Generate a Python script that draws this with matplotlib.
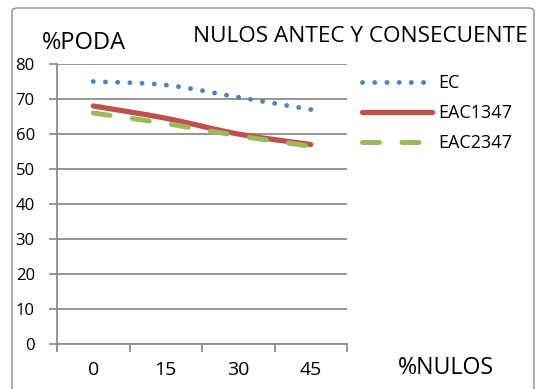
import numpy as np
import matplotlib
matplotlib.use("Agg")
import matplotlib.pyplot as plt
from matplotlib.patches import FancyBboxPatch
from matplotlib.lines import Line2D

categories = ["0", "15", "30", "45"]
series_names = ["EC", "EAC1347", "EAC2347"]
ec = [75, 74, 70.5, 67]
eac1347 = [68, 64.5, 60, 57]
eac2347 = [66, 63, 59.5, 56.5]
yticks = [0, 10, 20, 30, 40, 50, 60, 70, 80]

colors = ["#4F81BD", "#C0504D", "#9BBB59"]
FONT = ["Open Sans", "DejaVu Sans"]
plt.rcParams['font.family'] = FONT

def smooth(xs, ys, n=30):
    # Bezier smoothing between the given points (drawing only)
    xs = np.asarray(xs, float); ys = np.asarray(ys, float)
    px, py = [], []
    m = len(xs)
    for i in range(m - 1):
        p0 = (xs[max(i-1, 0)], ys[max(i-1, 0)])
        p1 = (xs[i], ys[i]); p2 = (xs[i+1], ys[i+1])
        p3 = (xs[min(i+2, m-1)], ys[min(i+2, m-1)])
        c1 = (p1[0] + (p2[0]-p0[0])/6, p1[1] + (p2[1]-p0[1])/6)
        c2 = (p2[0] - (p3[0]-p1[0])/6, p2[1] - (p3[1]-p1[1])/6)
        t = np.linspace(0, 1, n)
        bx = (1-t)**3*p1[0] + 3*(1-t)**2*t*c1[0] + 3*(1-t)*t**2*c2[0] + t**3*p2[0]
        by = (1-t)**3*p1[1] + 3*(1-t)**2*t*c1[1] + 3*(1-t)*t**2*c2[1] + t**3*p2[1]
        px.extend(bx if i == 0 else bx[1:]); py.extend(by if i == 0 else by[1:])
    return np.array(px), np.array(py)

W, H = 536, 389
fig = plt.figure(figsize=(W/100, H/100), dpi=100)
fig.patch.set_facecolor("white")

frame = FancyBboxPatch((12/W, -20/H), (534-12)/W, (389+20-8)/H,
                       boxstyle="round,pad=0,rounding_size=0.01",
                       transform=fig.transFigure, fill=False,
                       edgecolor="#8C8C8C", linewidth=1.0, zorder=0)
fig.patches.append(frame)

ax = fig.add_axes([57/W, 1-344/H, (347-57)/W, (344-64)/H])
ax.set_facecolor("none")
x = np.arange(len(categories))
ax.set_xlim(-0.5, len(categories)-0.5)
ax.set_ylim(0, 80)

grid_c = "#8C8C8C"
ax.set_yticks(yticks)
ax.set_yticklabels([str(v) for v in yticks], fontsize=12)
ax.yaxis.grid(True, color=grid_c, linewidth=1.3)
ax.set_axisbelow(True)
ax.set_xticks(np.arange(-0.5, len(categories), 1.0))
ax.set_xticklabels([])
ax.set_xticks(x, minor=True)
ax.set_xticklabels(categories, minor=True, fontsize=14)
ax.tick_params(axis='x', which='minor', length=0, pad=12.5)
ax.tick_params(axis='x', which='major', length=6, width=1.3, color=grid_c, direction='out')
ax.tick_params(axis='y', length=6, width=1.3, color=grid_c, direction='out', pad=10)
for s in ["top", "right"]:
    ax.spines[s].set_visible(False)
for s in ["left", "bottom"]:
    ax.spines[s].set_color(grid_c)
    ax.spines[s].set_linewidth(1.3)

DOT = (0, (0.01, 2.5))
DASH = (0, (3.4, 4.5))
sx, sy = smooth(x, ec)
ax.plot(sx, sy, color=colors[0], linewidth=3.5, linestyle=DOT,
        dash_capstyle='round')
sx, sy = smooth(x, eac1347)
ax.plot(sx, sy, color=colors[1], linewidth=3.8, solid_capstyle='round')
sx, sy = smooth(x, eac2347)
ax.plot(sx, sy, color=colors[2], linewidth=3.6, linestyle=DASH,
        dash_capstyle='round')

handles = [
    Line2D([], [], color=colors[0], linewidth=3.5, linestyle=DOT, dash_capstyle='round'),
    Line2D([], [], color=colors[1], linewidth=3.8, solid_capstyle='round'),
    Line2D([], [], color=colors[2], linewidth=3.6, linestyle=DASH, dash_capstyle='round'),
]
fig.legend(handles, series_names, loc="upper left", bbox_to_anchor=(362/W, 1-74/H),
           frameon=False, fontsize=13, handlelength=3.9, handletextpad=0.35,
           labelspacing=0.67, borderaxespad=0, borderpad=0)

fig.text(42/W, 1-43/H, "%PODA", fontsize=17, va="center", ha="left")
fig.text(528/W, 1-37/H, "NULOS ANTEC Y CONSECUENTE", fontsize=16.2, va="center", ha="right")
fig.text(446/W, 1-368/H, "%NULOS", fontsize=16.7, va="center", ha="center")

fig.savefig("out.png", dpi=100)
